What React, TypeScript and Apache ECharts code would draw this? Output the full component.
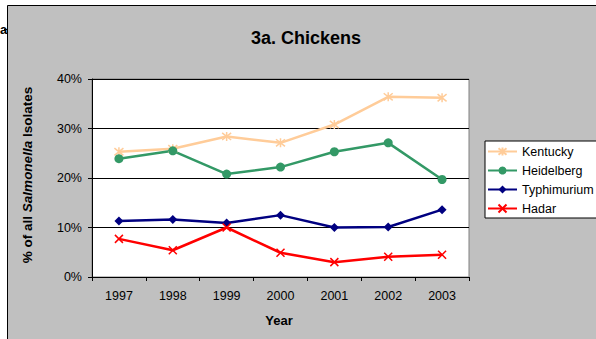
import React, { useEffect, useRef } from "react";
import * as echarts from "echarts";

const years = ["1997", "1998", "1999", "2000", "2001", "2002", "2003"];
const kentucky = [25.3, 25.9, 28.4, 27.1, 30.8, 36.4, 36.2];
const heidelberg = [23.9, 25.5, 20.8, 22.2, 25.3, 27.1, 19.7];
const typhimurium = [11.3, 11.6, 10.9, 12.5, 10.0, 10.1, 13.6];
const hadar = [7.7, 5.4, 10.0, 4.9, 3.0, 4.1, 4.5];

const FONT = "'Liberation Sans', Arial, sans-serif";

const ASTERISK = "path://M1,1L9,9M1,9L9,1M5,0L5,10";
const CROSS = "path://M0,0L10,10M0,10L10,0";

export default function App() {
  const ref = useRef<HTMLDivElement>(null);

  useEffect(() => {
    if (!ref.current) return;
    const chart = echarts.init(ref.current, undefined, { renderer: "svg" });

    const lineSeries = (
      name: string,
      data: number[],
      color: string,
      symbol: string,
      size: number,
      stroked: boolean
    ) => ({
      name,
      type: "line",
      data,
      symbol,
      symbolSize: size,
      showSymbol: true,
      lineStyle: { color, width: 2.5 },
      itemStyle: stroked
        ? { color: "none", borderColor: color, borderWidth: 1.5 }
        : { color, borderColor: color, borderWidth: 0 },
      z: 3,
    });

    chart.setOption({
      animation: false,
      backgroundColor: "#ffffff",
      textStyle: { fontFamily: FONT },
      graphic: [
        {
          type: "rect",
          z: -10,
          shape: { x: 7.5, y: 5.5, width: 700, height: 500 },
          style: { fill: "#c0c0c0", stroke: "#000", lineWidth: 1 },
        },
        {
          type: "text",
          x: 0,
          y: 29,
          style: {
            text: "a",
            font: `bold 13px ${FONT}`,
            fill: "#000",
            verticalAlign: "middle",
          },
        },
        {
          type: "line",
          shape: { x1: 4, y1: 29.5, x2: 8, y2: 29.5 },
          style: { stroke: "#000", lineWidth: 1 },
        },
        {
          type: "text",
          x: 306,
          y: 38,
          style: {
            text: "3a. Chickens",
            font: `bold 18px ${FONT}`,
            fill: "#000",
            align: "center",
            verticalAlign: "middle",
          },
        },
        {
          type: "text",
          x: 27,
          y: 175,
          rotation: Math.PI / 2,
          style: {
            text: "{b|% of all }{i|Salmonella}{b| Isolates}",
            align: "center",
            verticalAlign: "middle",
            rich: {
              b: { fontFamily: FONT, fontSize: 13.5, fontWeight: "bold", fill: "#000" },
              i: {
                fontFamily: FONT,
                fontSize: 13.5,
                fontWeight: "bold",
                fontStyle: "italic",
                fill: "#000",
              },
            },
          },
        },
        {
          type: "text",
          x: 279,
          y: 320,
          style: {
            text: "Year",
            font: `bold 13px ${FONT}`,
            fill: "#000",
            align: "center",
            verticalAlign: "middle",
          },
        },
      ],
      grid: {
        left: 92,
        top: 79,
        width: 377,
        height: 198,
        show: true,
        backgroundColor: "#ffffff",
        borderColor: "#808080",
        borderWidth: 1,
      },
      legend: {
        orient: "vertical",
        left: 485,
        top: 141,
        backgroundColor: "#ffffff",
        borderColor: "#000",
        borderWidth: 1,
        padding: [4, 12, 3, 2],
        itemWidth: 29,
        itemHeight: 10,
        itemGap: 6,
        textStyle: { fontFamily: FONT, fontSize: 12.5, color: "#000" },
        data: ["Kentucky", "Heidelberg", "Typhimurium", "Hadar"],
      },
      xAxis: {
        type: "category",
        data: years,
        boundaryGap: true,
        axisLine: { lineStyle: { color: "#000", width: 1 } },
        axisTick: { show: true, length: 4, alignWithLabel: false, lineStyle: { color: "#000" } },
        axisLabel: { color: "#000", fontSize: 12.5, fontFamily: FONT, margin: 12 },
        splitLine: { show: false },
      },
      yAxis: {
        type: "value",
        min: 0,
        max: 40,
        interval: 10,
        axisLine: { show: true, lineStyle: { color: "#000", width: 1 } },
        axisTick: { show: true, length: 4, lineStyle: { color: "#000" } },
        axisLabel: {
          color: "#000",
          fontSize: 12.5,
          fontFamily: FONT,
          margin: 10,
          formatter: "{value}%",
        },
        splitLine: { show: true, lineStyle: { color: "#000", width: 1 } },
      },
      series: [
        lineSeries("Kentucky", kentucky, "#ffcc99", ASTERISK, 9, true),
        lineSeries("Heidelberg", heidelberg, "#339966", "circle", 9, false),
        lineSeries("Typhimurium", typhimurium, "#000080", "diamond", 9, false),
        lineSeries("Hadar", hadar, "#ff0000", CROSS, 8, true),
      ],
    });

    return () => chart.dispose();
  }, []);

  return (
    <div
      ref={ref}
      style={{ position: "absolute", left: 0, top: 0, width: 596, height: 339 }}
    />
  );
}
